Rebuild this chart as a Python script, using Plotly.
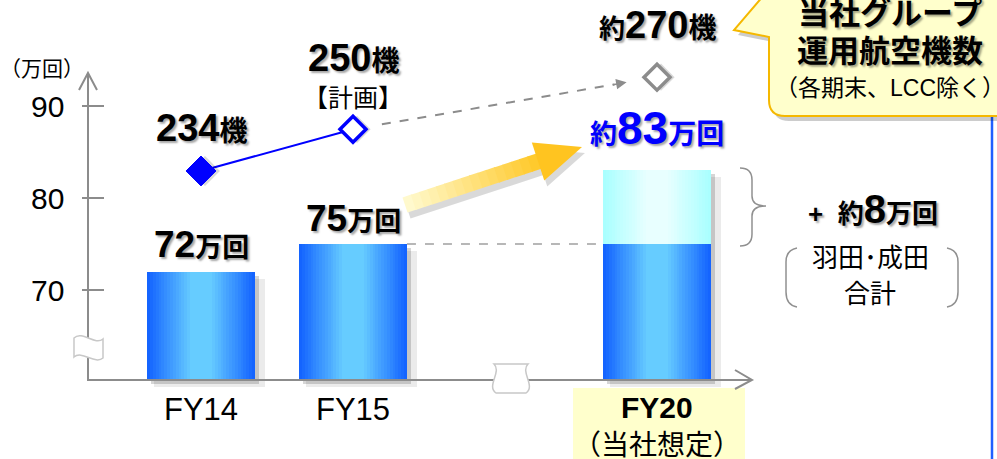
import re
import math
import plotly.graph_objects as go

# ---------------- data ----------------
categories = ["FY14", "FY15", "FY20"]
cat_pos = [0, 1, 3]
movements = [72, 75, 75]          # 万回 (FY20: current-capacity part)
added_movements = [0, 0, 8]       # 羽田・成田 増枠分 (万回)
aircraft = [234, 250, 270]        # 機
y_ticks = [70, 80, 90]
y_tick_labels = ["70", "80", "90"]

totals = [m + a for m, a in zip(movements, added_movements)]

# ---------------- geometry / style ----------------
W, H = 997, 459
X_RANGE = [-201 / 152, (W - 201) / 152]
Y_RANGE = [70 - 169 / 9.2, 70 + 290 / 9.2]
Y2_RANGE = [123.5, 299.6]
AXIS_BASE = 60.2
BAR_W = 0.71
X_PER_PX = 1 / 152
Y_PER_PX = 1 / 9.2
GRAY = "#8c8c8c"
FONT = "Liberation Sans, Arial, Noto Sans CJK JP, sans-serif"
SHADOW = "2px 2px 2px rgba(0,0,0,0.35)"


def px(x):
    return x / W


def py(y):
    return 1 - y / H


def P(s):
    return re.sub(r"(-?\d+(?:\.\d+)?),(-?\d+(?:\.\d+)?)",
                  lambda m: f"{px(float(m.group(1))):.5f},{py(float(m.group(2))):.5f}", s)


def h2r(h):
    h = h.lstrip("#")
    return [int(h[i:i + 2], 16) for i in (0, 2, 4)]


def mix(c1, c2, t):
    a, b = h2r(c1), h2r(c2)
    return "rgb(%d,%d,%d)" % tuple(round(a[i] + (b[i] - a[i]) * t) for i in range(3))


fig = go.Figure()

# bar shadows
for dx, dy, alpha, extra in [(7, 7, 0.08, 3), (4, 4, 0.16, 0)]:
    fig.add_bar(x=cat_pos, y=[t - AXIS_BASE for t in totals],
                base=AXIS_BASE - dy * Y_PER_PX,
                width=BAR_W + extra * X_PER_PX,
                offset=-BAR_W / 2 + dx * X_PER_PX,
                marker=dict(color=f"rgba(0,0,0,{alpha})", line_width=0),
                hoverinfo="skip")

# main bars with simulated horizontal gradient
N = 16
for i in range(N):
    frac = 1 - i / N * 0.85
    t = i / (N - 1)
    fig.add_bar(x=cat_pos, y=[m - AXIS_BASE for m in movements], base=AXIS_BASE,
                width=BAR_W * frac,
                marker=dict(color=mix("#1464ff", "#66ccff", t), line_width=0),
                hoverinfo="skip")

add_x = [p for p, a in zip(cat_pos, added_movements) if a > 0]
add_base = [m for m, a in zip(movements, added_movements) if a > 0]
add_y = [a for a in added_movements if a > 0]
for i in range(N):
    frac = 1 - i / N * 0.85
    t = i / (N - 1)
    fig.add_bar(x=add_x, y=add_y, base=add_base, width=BAR_W * frac,
                marker=dict(color=mix("#aaffff", "#e8ffff", t), line_width=0),
                hoverinfo="skip")

# aircraft line (actual -> plan)
fig.add_scatter(x=cat_pos[:2], y=aircraft[:2], yaxis="y2", mode="lines",
                line=dict(color="#0000ff", width=2), hoverinfo="skip")
# diamond shadows
fig.add_scatter(x=[p + 4 * X_PER_PX for p in cat_pos], y=aircraft, yaxis="y2", mode="markers",
                marker=dict(symbol="diamond", size=[23, 21, 21], color="rgba(0,0,0,0.15)",
                            line=dict(width=0), opacity=1),
                hoverinfo="skip", cliponaxis=False)
fig.add_scatter(x=cat_pos, y=aircraft, yaxis="y2", mode="markers",
                marker=dict(symbol="diamond", size=[23, 20, 20], opacity=1,
                            color=["#0000ff", "#ffffff", "#ffffff"],
                            line=dict(color=["#0000ff", "#0000ff", GRAY], width=[1, 3.5, 3.5])),
                hoverinfo="skip", cliponaxis=False, opacity=1)

shapes = []
# FY20 label background
shapes.append(dict(type="rect", xref="paper", yref="paper", x0=px(573), x1=px(745),
                   y0=py(462), y1=py(388), fillcolor="#ffffcc", line_width=0, layer="below"))
# dashed line between FY15 top and FY20 lower segment
shapes.append(dict(type="line", xref="x", yref="y", x0=cat_pos[1] + BAR_W / 2,
                   x1=cat_pos[2] - BAR_W / 2, y0=movements[1], y1=movements[1],
                   line=dict(color="#a0a0a0", width=1.5, dash="dash"), layer="below"))
# axes
shapes.append(dict(type="line", xref="paper", yref="paper", x0=px(88), x1=px(88),
                   y0=py(381), y1=py(73), line=dict(color=GRAY, width=2)))
shapes.append(dict(type="path", xref="paper", yref="paper",
                   path=P("M 79,90 L 88,73 L 97,90"), line=dict(color=GRAY, width=2)))
shapes.append(dict(type="line", xref="paper", yref="paper", x0=px(87), x1=px(752),
                   y0=py(380), y1=py(380), line=dict(color=GRAY, width=2)))
shapes.append(dict(type="path", xref="paper", yref="paper",
                   path=P("M 735,370 L 752,380 L 735,389"), line=dict(color=GRAY, width=2)))
for tv in y_ticks:
    shapes.append(dict(type="line", xref="paper", yref="y", x0=px(82), x1=px(104),
                       y0=tv, y1=tv, line=dict(color=GRAY, width=2)))
# axis breaks
shapes.append(dict(type="path", xref="paper", yref="paper",
                   path=P("M 74,338 C 82,330 95,346 103,339 L 103,358 C 95,365 82,350 74,357 Z"),
                   fillcolor="white", line=dict(color="#c8c8c8", width=1.5)))
shapes.append(dict(type="path", xref="paper", yref="paper",
                   path=P("M 494,364 L 528,364 C 520,372 536,386 526,393 L 496,393 C 486,386 502,372 494,364 Z"),
                   fillcolor="white", line=dict(color="#c8c8c8", width=1.5)))


# dashed aircraft forecast line
def air_at(x):
    x1, x2 = cat_pos[1], cat_pos[2]
    return aircraft[1] + (aircraft[2] - aircraft[1]) * (x - x1) / (x2 - x1)


xs, xe, xt = 1.19, 2.72, 2.80
shapes.append(dict(type="line", xref="x", yref="y2", x0=xs, x1=xe, y0=air_at(xs), y1=air_at(xe),
                   line=dict(color=GRAY, width=2, dash="dash")))

# gradient arrow
T0 = (405, 205)
TIP = (582, 147)
d = (TIP[0] - T0[0], TIP[1] - T0[1])
L = math.hypot(*d)
u = (d[0] / L, d[1] / L)
n = (-u[1], u[0])
if n[1] < 0:
    n = (-n[0], -n[1])
BODY_HW, HEAD_HW, BODY_LEN = 8, 20, 140


def pt(s, w, off=(0, 0)):
    return (T0[0] + s * u[0] + w * n[0] + off[0], T0[1] + s * u[1] + w * n[1] + off[1])


def poly(points):
    return "M " + " L ".join(f"{a:.2f},{b:.2f}" for a, b in points) + " Z"


outline = [pt(0, -BODY_HW), pt(BODY_LEN, -BODY_HW), pt(BODY_LEN, -HEAD_HW), pt(L, 0),
           pt(BODY_LEN, HEAD_HW), pt(BODY_LEN, BODY_HW), pt(0, BODY_HW)]
shadow_pts = [(a + 3, b + 6) for a, b in outline]
shapes.append(dict(type="path", xref="paper", yref="paper", path=P(poly(shadow_pts)),
                   fillcolor="rgba(0,0,0,0.15)", line_width=0))
NS = 16
for k in range(NS):
    s0 = BODY_LEN * k / NS
    s1 = BODY_LEN * (k + 1) / NS + 1
    c = mix("#fffbd2", "#ffc828", (k + 0.5) / NS)
    shapes.append(dict(type="path", xref="paper", yref="paper",
                       path=P(poly([pt(s0, -BODY_HW), pt(s1, -BODY_HW), pt(s1, BODY_HW), pt(s0, BODY_HW)])),
                       fillcolor=c, line_width=0))
shapes.append(dict(type="path", xref="paper", yref="paper",
                   path=P(poly([pt(BODY_LEN, -HEAD_HW), pt(L, 0), pt(BODY_LEN, HEAD_HW)])),
                   fillcolor="#ffc420", line_width=0))

# brace and brackets
shapes.append(dict(type="path", xref="paper", yref="paper",
                   path=P("M 740,168 Q 752,168 752,180 L 752,196 Q 752,206 766,206 "
                          "Q 752,206 752,216 L 752,234 Q 752,246 740,246"),
                   line=dict(color="#909090", width=1.5)))
shapes.append(dict(type="path", xref="paper", yref="paper",
                   path=P("M 797,248 Q 786,250 786,262 L 786,292 Q 786,305 797,307"),
                   line=dict(color="#909090", width=1.5)))
shapes.append(dict(type="path", xref="paper", yref="paper",
                   path=P("M 947,248 Q 958,250 958,262 L 958,292 Q 958,305 947,307"),
                   line=dict(color="#909090", width=1.5)))
# right blue frame line
shapes.append(dict(type="line", xref="paper", yref="paper", x0=px(992), x1=px(992),
                   y0=py(100), y1=py(462), line=dict(color="#2060ff", width=2.5)))
# callout
callout = "M 785,-12 L 1012,-12 L 1012,116 L 785,116 Q 769,116 769,100 L 769,37 L 734,30 L 770,-12 Z"
shapes.append(dict(type="path", xref="paper", yref="paper",
                   path=P(re.sub(r"(-?\d+(?:\.\d+)?),(-?\d+(?:\.\d+)?)",
                                 lambda m: f"{float(m.group(1)) + 4},{float(m.group(2)) + 5}", callout)),
                   fillcolor="rgba(0,0,0,0.2)", line_width=0))
shapes.append(dict(type="path", xref="paper", yref="paper", path=P(callout),
                   fillcolor="#ffffcc", line=dict(color="#f5b800", width=2)))

ann = []


def A(text, x, y, size, xref="paper", yref="paper", color="black", bold=False, shadow=False,
      xanchor="center", yanchor="middle", yshift=0):
    f = dict(family=FONT, size=size, color=color)
    if bold:
        f["weight"] = "bold"
    if shadow:
        f["shadow"] = SHADOW
    ann.append(dict(text=text, x=x, y=y, xref=xref, yref=yref, showarrow=False, font=f,
                    xanchor=xanchor, yanchor=yanchor, yshift=yshift))


def sp(t, s):
    return f"<span style='font-size:{s}px'>{t}</span>"


# arrowhead of forecast line
ann.append(dict(text="", x=xt, y=air_at(xt), xref="x", yref="y2", ax=xe - 0.02, ay=air_at(xe - 0.02),
                axref="x", ayref="y2", showarrow=True, arrowhead=2, arrowsize=1.4,
                arrowwidth=1.5, arrowcolor=GRAY))

# y tick labels and unit
for tv, tl in zip(y_ticks, y_tick_labels):
    A(tl, px(66), tv, 30, yref="y", xanchor="right")
A("（万回）", px(42), py(68), 21)

# category labels
A(categories[0], cat_pos[0], py(409), 31, xref="x")
A(categories[1], cat_pos[1], py(409), 31, xref="x")
A(categories[2], cat_pos[2], py(407), 30, xref="x", bold=True)
A("（当社想定）", cat_pos[2], py(445), 28, xref="x")

# bar value labels
A(f"{movements[0]}{sp('万回', 27)}", cat_pos[0], totals[0], 37, xref="x", yref="y", bold=True,
  shadow=True, yanchor="bottom", yshift=5)
A(f"{movements[1]}{sp('万回', 27)}", cat_pos[1], totals[1], 37, xref="x", yref="y", bold=True,
  shadow=True, yanchor="bottom", yshift=3)
A(f"{sp('約', 27)}{totals[2]}{sp('万回', 28)}", cat_pos[2], totals[2], 46, xref="x", yref="y",
  color="#0000ff", bold=True, shadow=True, yanchor="bottom", yshift=14)
A(f"+  {sp('約', 26)}{sp(added_movements[2], 40)}万回", px(873), py(209), 26, bold=True, shadow=True)
A("羽田･成田", px(870), py(258), 26)
A("合計", px(870), py(294), 26)

# aircraft labels
KI = sp("機", 28)
A(f"{aircraft[0]}{KI}", cat_pos[0], aircraft[0], 38, xref="x", yref="y2", bold=True, shadow=True,
  yanchor="bottom", yshift=20)
A(f"{aircraft[1]}{KI}", cat_pos[1], aircraft[1], 38, xref="x", yref="y2", bold=True, shadow=True,
  yanchor="bottom", yshift=48)
A("【計画】", cat_pos[1], aircraft[1], 25, xref="x", yref="y2", yanchor="middle", yshift=31)
A(f"{sp('約', 26)}{aircraft[2]}{KI}", cat_pos[2], aircraft[2], 38,
  xref="x", yref="y2", bold=True, shadow=True, yanchor="bottom", yshift=29)

# callout text
A("当社グループ", px(890), py(13), 31, bold=True, shadow=True)
A("運用航空機数", px(890), py(51), 31, bold=True, shadow=True)
A("（各期末、LCC除く）", px(890), py(88), 23)

fig.update_layout(
    width=W, height=H, margin=dict(l=0, r=0, t=0, b=0),
    paper_bgcolor="white", plot_bgcolor="white", showlegend=False,
    barmode="overlay", bargap=0,
    xaxis=dict(range=X_RANGE, visible=False, fixedrange=True),
    yaxis=dict(range=Y_RANGE, visible=False, fixedrange=True),
    yaxis2=dict(range=Y2_RANGE, overlaying="y", visible=False, fixedrange=True),
    shapes=shapes, annotations=ann,
    font=dict(family=FONT),
)

fig.write_html("out.html", config={"displayModeBar": False},
               post_script="document.body.style.margin='0px';document.body.style.overflow='hidden';")
